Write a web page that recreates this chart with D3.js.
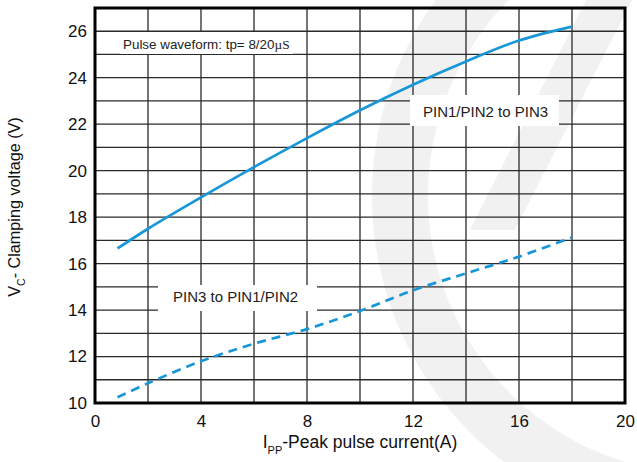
<!DOCTYPE html>
<html>
<head>
<meta charset="utf-8">
<script src="https://cdn.jsdelivr.net/npm/d3@7"></script>
<style>
  body { margin: 0; background: #fff; }
  svg { display: block; font-family: "Liberation Sans", Arial, sans-serif; }
</style>
</head>
<body>
<svg width="637" height="462"></svg>
<script>
// values
const currentSolid = [0.85, 2, 4, 6, 8, 10, 12, 14, 16, 18];
const vcPin12ToPin3 = [16.65, 17.5, 18.85, 20.15, 21.4, 22.6, 23.7, 24.7, 25.6, 26.2];
const currentDashed = [0.85, 2, 4, 6, 8, 10, 12, 14, 16, 18];
const vcPin3ToPin12 = [10.25, 10.85, 11.8, 12.55, 13.18, 13.96, 14.85, 15.58, 16.3, 17.13];
const xTickLabels = [0, 4, 8, 12, 16, 20];
const yTickLabels = [10, 12, 14, 16, 18, 20, 22, 24, 26];
const xGrid = d3.range(0, 21, 2);
const yGrid = d3.range(10, 28, 1);

const svg = d3.select("svg");
const margin = { left: 95, right: 12, top: 8, bottom: 59 };
const W = 637, H = 462;
const blue = "#1897d8";

const x = d3.scaleLinear().domain([0, 20]).range([margin.left, W - margin.right]);
const y = d3.scaleLinear().domain([10, 27]).range([H - margin.bottom, margin.top]);

// faint watermark logo in the background
const wm = svg.append("g").attr("fill", "#f1f1f1");
wm.append("path")
    .attr("d", d3.arc().innerRadius(278).outerRadius(334)
        .startAngle(Math.PI + 0.05).endAngle(2 * Math.PI - 0.05)())
    .attr("transform", "translate(706,196)");
wm.append("path").attr("d", "M586,0L632,0L515,230L470,230Z");

// grid
const grid = svg.append("g").attr("stroke", "#2a2a2a").attr("stroke-width", 1.3);
grid.selectAll(".gx").data(xGrid).enter().append("line")
    .attr("x1", d => x(d)).attr("x2", d => x(d))
    .attr("y1", y(27)).attr("y2", y(10));
grid.selectAll(".gy").data(yGrid).enter().append("line")
    .attr("x1", x(0)).attr("x2", x(20))
    .attr("y1", d => y(d)).attr("y2", d => y(d));

// annotation boxes (they hide the grid behind them)
function note(x0, y0, w, h, tx, ty, size) {
    svg.append("rect").attr("x", x0).attr("y", y0).attr("width", w).attr("height", h)
        .attr("fill", "#fff");
    return svg.append("text").attr("x", tx).attr("y", ty)
        .attr("font-size", size).attr("fill", "#222");
}
const t1 = note(120, 32, 173, 22, 123, 49, 13.4);
t1.append("tspan").text("Pulse waveform: tp= 8/20");
t1.append("tspan").attr("font-family", "Liberation Serif, serif").text("\u00b5S");
note(410, 95, 149, 31, 423, 117, 15).text("PIN1/PIN2 to PIN3");
note(158, 285, 159, 26, 173, 302, 15).text("PIN3 to PIN1/PIN2");

// curves
const line = d3.line().x(d => x(d[0])).y(d => y(d[1])).curve(d3.curveCatmullRom.alpha(0.5));
svg.append("path")
    .datum(d3.zip(currentSolid, vcPin12ToPin3))
    .attr("d", line).attr("fill", "none")
    .attr("stroke", blue).attr("stroke-width", 2.7);
svg.append("path")
    .datum(d3.zip(currentDashed, vcPin3ToPin12))
    .attr("d", line).attr("fill", "none")
    .attr("stroke", blue).attr("stroke-width", 2.7)
    .attr("stroke-dasharray", "9,6");

// frame
svg.append("rect")
    .attr("x", x(0)).attr("y", y(27))
    .attr("width", x(20) - x(0)).attr("height", y(10) - y(27))
    .attr("fill", "none").attr("stroke", "#000").attr("stroke-width", 3);

// axes (labels only, ticks are drawn by the grid)
const xAxis = svg.append("g").attr("transform", `translate(0,${y(10)})`)
    .call(d3.axisBottom(x).tickValues(xTickLabels).tickSize(0).tickPadding(12));
const yAxis = svg.append("g").attr("transform", `translate(${x(0)},0)`)
    .call(d3.axisLeft(y).tickValues(yTickLabels).tickSize(0).tickPadding(8));
[xAxis, yAxis].forEach(a => {
    a.select(".domain").remove();
    a.selectAll("text").attr("font-size", 17).attr("fill", "#111")
        .attr("font-family", "Liberation Sans, Arial, sans-serif");
});

// axis titles
const xt = svg.append("text").attr("x", 360).attr("y", 448)
    .attr("text-anchor", "middle").attr("font-size", 17.5).attr("fill", "#111");
xt.append("tspan").text("I");
xt.append("tspan").attr("font-size", 11).attr("dy", 6).text("PP");
xt.append("tspan").attr("dy", -6).text("-Peak pulse current(A)");

const yt = svg.append("text").attr("transform", "translate(20,207) rotate(-90)")
    .attr("text-anchor", "middle").attr("font-size", 16.2).attr("fill", "#111");
yt.append("tspan").text("V");
yt.append("tspan").attr("font-size", 10.5).attr("dy", 5).text("C");
yt.append("tspan").attr("dy", -5).text("- Clamping voltage (V)");
</script>
</body>
</html>
